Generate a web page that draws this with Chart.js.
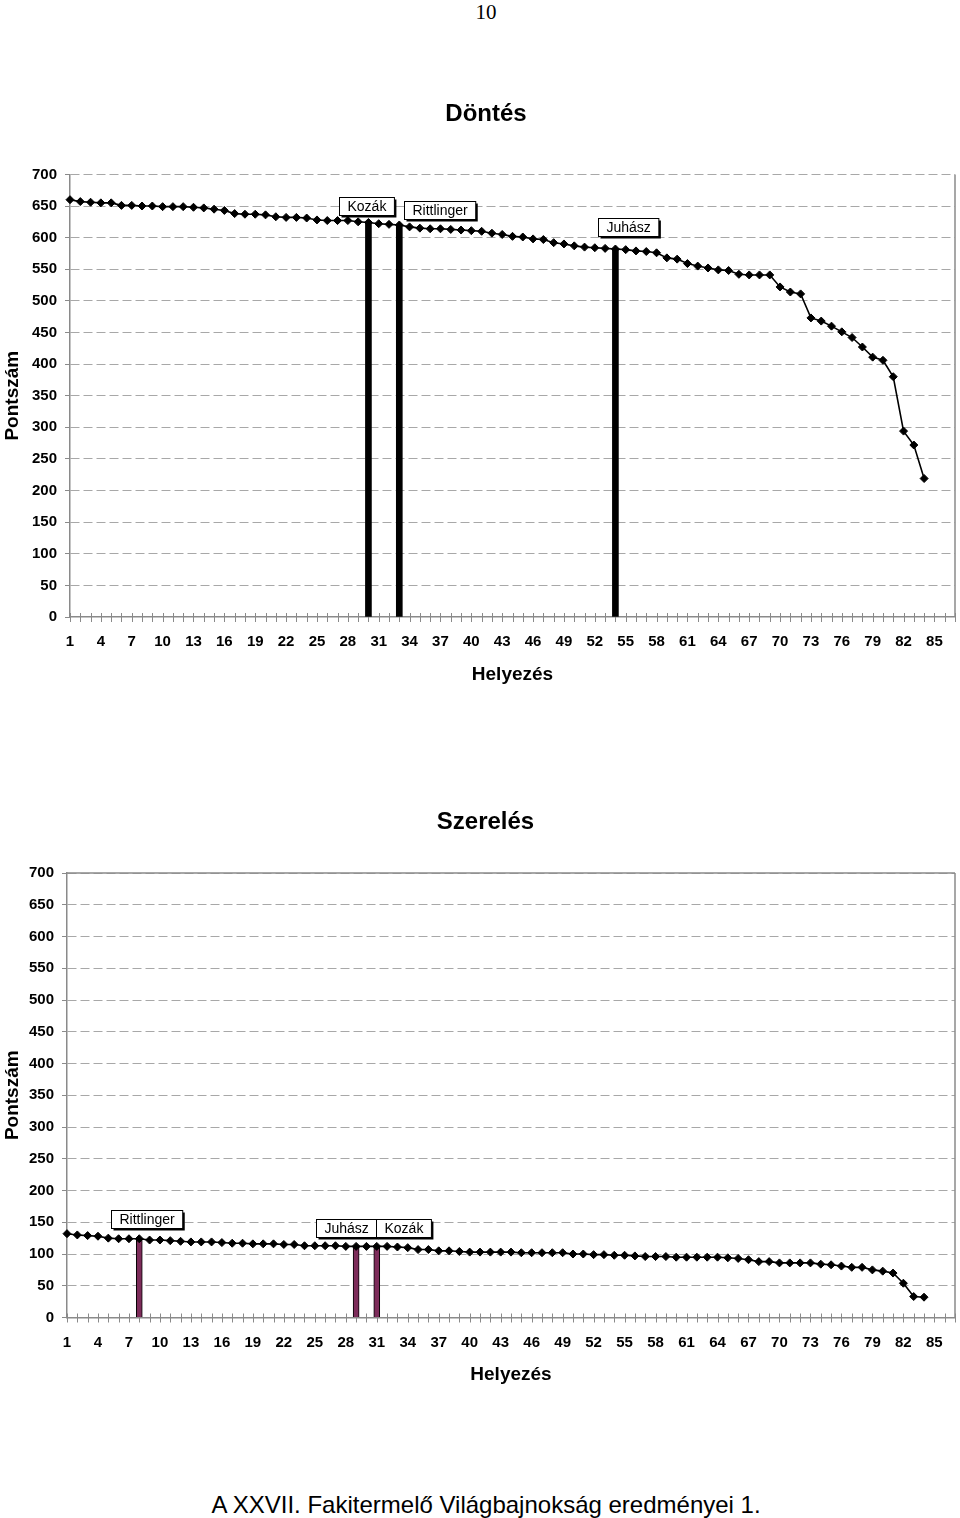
<!DOCTYPE html>
<html>
<head>
<meta charset="utf-8">
<script src="https://cdn.jsdelivr.net/npm/chart.js@4.4.0/dist/chart.umd.min.js"></script>
<style>
  html, body { margin: 0; padding: 0; background: #fff; }
  body { width: 960px; height: 1518px; position: relative; overflow: hidden; font-family: "Liberation Sans", Arial, sans-serif; }
  #pageNum { position: absolute; left: 0; top: 0; width: 972px; text-align: center; font-family: "Liberation Serif", "Times New Roman", serif; font-size: 21px; line-height: 24px; color: #000; }
  .chartBox { position: absolute; left: 0; width: 960px; height: 700px; }
  #footer { position: absolute; left: 0; top: 1490px; width: 972px; text-align: center; font-size: 24px; line-height: 29px; color: #000; }
</style>
</head>
<body>
<div id="pageNum">10</div>
<div class="chartBox" style="top:0px"><canvas id="dontes" width="960" height="700"></canvas></div>
<div class="chartBox" style="top:700px"><canvas id="szereles" width="960" height="700"></canvas></div>
<div id="footer">A XXVII. Fakitermelő Világbajnokság eredményei 1.</div>
<script>
// ---------- DATA ----------
const rankLabels = ['1','2','3','4','5','6','7','8','9','10','11','12','13','14','15','16','17','18','19','20',
  '21','22','23','24','25','26','27','28','29','30','31','32','33','34','35','36','37','38','39','40',
  '41','42','43','44','45','46','47','48','49','50','51','52','53','54','55','56','57','58','59','60',
  '61','62','63','64','65','66','67','68','69','70','71','72','73','74','75','76','77','78','79','80',
  '81','82','83','84','85','86','87'];

const dontesTitle = 'Döntés';
const dontesScores = [660, 657, 656, 655, 655, 651, 651, 650, 650, 649, 649, 649, 648, 647, 645, 643, 638, 637, 637, 636,
  633, 632, 632, 631, 628, 627, 627, 627, 625, 624, 622, 621, 620, 617, 615, 614, 614, 613, 612, 611,
  610, 607, 605, 602, 601, 598, 597, 592, 590, 587, 585, 584, 583, 582, 581, 579, 578, 576, 568, 566,
  559, 555, 552, 549, 548, 542, 541, 541, 541, 522, 514, 511, 473, 468, 460, 451, 442, 427, 411, 406,
  380, 294, 272, 219];
const dontesNames = ['Kozák', 'Rittlinger', 'Juhász'];
const dontesRanks = [30, 33, 54];

const szerelesTitle = 'Szerelés';
const szerelesScores = [132, 130, 129, 128, 125, 124, 124, 124, 122, 122, 121, 120, 119, 119, 119, 118, 117, 117, 116, 116,
  116, 115, 115, 113, 113, 113, 113, 112, 112, 112, 112, 112, 111, 110, 107, 107, 105, 105, 104, 103,
  103, 103, 103, 103, 102, 102, 102, 102, 102, 100, 100, 99, 99, 98, 98, 97, 96, 96, 96, 95,
  95, 95, 95, 95, 94, 93, 91, 88, 88, 86, 86, 86, 86, 84, 83, 81, 79, 79, 75, 73,
  70, 54, 33, 32];
const szerelesNames = ['Rittlinger', 'Juhász', 'Kozák'];
const szerelesRanks = [8, 29, 31];

const xAxisTitle = 'Helyezés';
const yAxisTitle = 'Pontszám';
const yMin = 0, yMax = 700, yStep = 50;

// ---------- STYLE ----------
const FONT = '"Liberation Sans", Arial, sans-serif';
const AXIS = '#8a8a8a';
const GRID = '#a8a8a8';

const decor = {
  id: 'decor',
  beforeDatasetsDraw(chart, args, o) {
    const ctx = chart.ctx, xs = chart.scales.x, ca = chart.chartArea;
    ctx.save();
    ctx.strokeStyle = AXIS;
    ctx.lineWidth = 1;
    for (let i = 0; i < xs.ticks.length; i++) {
      const x = Math.round(xs.getPixelForTick(i)) + 0.5;
      ctx.beginPath();
      ctx.moveTo(x, ca.bottom - 4);
      ctx.lineTo(x, ca.bottom + 5);
      ctx.stroke();
    }
    ctx.lineWidth = 1.5;
    ctx.beginPath();
    if (o.frameTop) { ctx.moveTo(ca.left, ca.top); ctx.lineTo(ca.right, ca.top); }
    ctx.moveTo(ca.right, ca.top);
    ctx.lineTo(ca.right, ca.bottom);
    ctx.stroke();
    ctx.restore();
  },
  afterDatasetsDraw(chart, args, o) {
    const ctx = chart.ctx;
    const meta = chart.getDatasetMeta(1);
    ctx.save();
    ctx.font = '14px ' + FONT;
    ctx.textAlign = 'center';
    ctx.textBaseline = 'middle';
    o.names.forEach((name, k) => {
      const el = meta.data[o.ranks[k] - 1];
      if (!el) return;
      const off = o.offsets[k];
      const w = ctx.measureText(name).width + 16;
      const h = 18;
      const cx = el.x + off[0];
      const bottom = el.y + off[1];
      const left = Math.round(cx - w / 2) + 0.5;
      const top = Math.round(bottom - h) + 0.5;
      ctx.fillStyle = '#000';
      ctx.fillRect(left + 2, top + 2, w, h);
      ctx.fillStyle = '#fff';
      ctx.fillRect(left, top, w, h);
      ctx.strokeStyle = '#000';
      ctx.lineWidth = 1;
      ctx.strokeRect(left, top, w, h);
      ctx.fillStyle = '#000';
      ctx.fillText(name, left + w / 2, top + h / 2 + 0.5);
    });
    ctx.restore();
  }
};

function buildChart(id, p) {
  const barData = rankLabels.map((_, i) => p.ranks.indexOf(i + 1) >= 0 ? p.scores[i] : null);
  return new Chart(document.getElementById(id), {
    type: 'line',
    data: {
      labels: rankLabels,
      datasets: [
        { type: 'line', data: p.scores, borderColor: '#000', borderWidth: 1.6, pointStyle: 'rectRot',
          pointRadius: 4, pointBackgroundColor: '#000', pointBorderColor: '#000', pointBorderWidth: 1,
          tension: 0, fill: false, order: 0 },
        { type: 'bar', data: barData, backgroundColor: p.barColor, borderColor: '#000',
          borderWidth: p.barBorder, barThickness: 6, order: 1 }
      ]
    },
    options: {
      responsive: false, animation: false, devicePixelRatio: 1,
      layout: { padding: { left: 16, right: p.padRight, top: 0, bottom: 0 } },
      plugins: {
        legend: { display: false }, tooltip: { enabled: false },
        title: { display: true, text: p.title, color: '#000', font: { family: FONT, size: 24, weight: 'bold' },
                 padding: { top: p.titleTop, bottom: p.titleBottom } },
        decor: { names: p.names, ranks: p.ranks, offsets: p.offsets, frameTop: p.frameTop }
      },
      scales: {
        x: {
          type: 'category', offset: false,
          grid: { display: false, drawTicks: true, tickLength: p.xTickPad, offset: false },
          border: { display: true, color: AXIS, width: 1.5 },
          ticks: { autoSkip: false, maxRotation: 0, minRotation: 0, padding: 0, color: '#000',
                   font: { family: FONT, size: 15, weight: 'bold' },
                   callback: function (v, i) { return i % 3 === 0 ? this.getLabelForValue(v) : ''; } },
          title: { display: true, text: xAxisTitle, color: '#000', font: { family: FONT, size: 19, weight: 'bold' },
                   padding: { top: 0, bottom: 14 } },
          afterFit: s => { s.height = p.xHeight; }
        },
        y: {
          min: yMin, max: yMax,
          ticks: { stepSize: yStep, padding: 8, color: '#000', font: { family: FONT, size: 15, weight: 'bold' } },
          grid: { color: c => (c.tick && c.tick.value === 0) ? 'rgba(0,0,0,0)' : GRID, lineWidth: 1,
                  drawTicks: true, tickLength: 5, tickColor: AXIS },
          border: { display: true, color: AXIS, width: 1.5, dash: [9, 4] },
          title: { display: true, text: yAxisTitle, color: '#000', font: { family: FONT, size: 19, weight: 'bold' },
                   padding: { top: -15, bottom: 0 } },
          afterFit: s => { s.width = p.yWidth; }
        }
      }
    },
    plugins: [decor]
  });
}

buildChart('dontes', {
  title: dontesTitle, scores: dontesScores, names: dontesNames, ranks: dontesRanks,
  offsets: [[-2, -7], [40, -6], [13, -13]],
  barColor: '#000', barBorder: 0, padRight: 4, yWidth: 54, xHeight: 83, xTickPad: 16,
  titleTop: 99.6, titleBottom: 46, frameTop: false
});
buildChart('szereles', {
  title: szerelesTitle, scores: szerelesScores, names: szerelesNames, ranks: szerelesRanks,
  offsets: [[7, -11], [-10, -9], [27, -9]],
  barColor: '#7d2c5a', barBorder: 1, padRight: 5, yWidth: 51, xHeight: 82.5, xTickPad: 16.5,
  titleTop: 107.6, titleBottom: 36.6, frameTop: true
});
</script>
</body>
</html>
